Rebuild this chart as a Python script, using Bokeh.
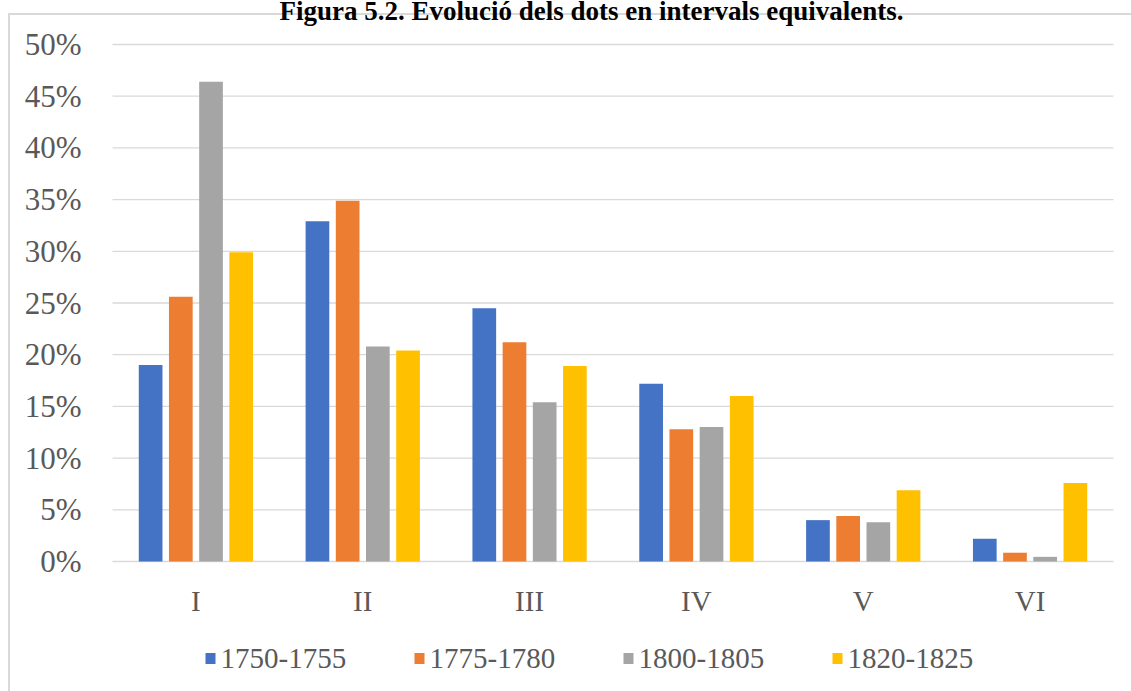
from bokeh.plotting import figure
from bokeh.models import Range1d, ColumnDataSource
from bokeh.core.properties import value
from bokeh.transform import dodge
from bokeh.embed import file_html
from bokeh.resources import INLINE

# ---- data ----
categories = ["I", "II", "III", "IV", "V", "VI"]
series_names = ["1750-1755", "1775-1780", "1800-1805", "1820-1825"]
s1750 = [0.190, 0.329, 0.245, 0.172, 0.040, 0.022]
s1775 = [0.256, 0.349, 0.212, 0.128, 0.044, 0.0085]
s1800 = [0.464, 0.208, 0.154, 0.130, 0.038, 0.0045]
s1820 = [0.299, 0.204, 0.189, 0.160, 0.069, 0.076]
y_ticks = [0.0, 0.05, 0.10, 0.15, 0.20, 0.25, 0.30, 0.35, 0.40, 0.45, 0.50]
y_tick_labels = ["0%", "5%", "10%", "15%", "20%", "25%", "30%", "35%", "40%", "45%", "50%"]
title_text = "Figura 5.2. Evolució dels dots en intervals equivalents."

colors = ["#4472C4", "#ED7D31", "#A5A5A5", "#FFC000"]

GRID = "#D9D9D9"
TXT = "#595959"
FONT = value("Liberation Serif")

# ---- layout (pixels) ----
W, H = 1131, 691
PLOT_L, PLOT_R = 112, 1113     # plot area, horizontal
Y0_PX, Y50_PX = 561, 44        # pixel rows of 0% and 50%
PXX = (PLOT_R - PLOT_L) / len(categories)   # pixels per category
PXY = (Y0_PX - Y50_PX) / 0.5                # pixels per unit


def dx(px):
    return (px - PLOT_L) / PXX


def dy(py):
    return (Y0_PX - py) / PXY


n = len(categories)
xc = [i + 0.5 for i in range(n)]
src = ColumnDataSource(dict(cat=categories, xc=xc, base=[0.0] * n,
                            s0=s1750, s1=s1775, s2=s1800, s3=s1820))

p = figure(width=W, height=H, x_range=Range1d(dx(0), dx(W)), y_range=Range1d(dy(H), dy(0)),
           output_backend="svg", toolbar_location=None,
           min_border_left=0, min_border_right=0, min_border_top=0, min_border_bottom=0)
# light chart-area border (left and top edges), drawn behind the transparent canvas
p.styles = {
    "background-color": "white",
    "background-image": "linear-gradient(#D9D9D9, #D9D9D9), linear-gradient(#D9D9D9, #D9D9D9)",
    "background-size": "2px 720px, 1300px 2px",
    "background-position": "8px 13px, 8px 13px",
    "background-repeat": "no-repeat",
}
p.border_fill_color = None
p.background_fill_color = None
p.outline_line_color = None
p.axis.visible = False
p.grid.visible = False

# horizontal gridlines across the category span
p.segment(x0=[0] * len(y_ticks), x1=[n] * len(y_ticks), y0=y_ticks, y1=y_ticks,
          line_color=GRID, line_width=1.3)

# y tick labels
p.text(x=[0] * len(y_ticks), y=y_ticks, text=y_tick_labels, x_offset=-31,
       text_align="right", text_baseline="middle", text_font=FONT,
       text_font_size="31px", text_color=TXT)

# category labels under the 0% line
p.text(x="xc", y="base", text="cat", source=src, y_offset=39, text_align="center",
       text_baseline="middle", text_font=FONT, text_font_size="29px", text_color=TXT)

# bars
step = 0.181
width = 0.142
offsets = [-1.5 * step, -0.5 * step, 0.5 * step, 1.5 * step]
for i, name in enumerate(series_names):
    p.vbar(x=dodge("xc", offsets[i]), top="s%d" % i, width=width,
           source=src, fill_color=colors[i], line_color=None)

# legend (squares + labels) below the chart
LEG_LEFT, LEG_PITCH, LEG_Y = 205, 209, 658
sq_x = [dx(LEG_LEFT + 5 + k * LEG_PITCH) for k in range(len(series_names))]
leg_y = [dy(LEG_Y)] * len(series_names)
p.rect(x=sq_x, y=leg_y, width=10, height=11, width_units="screen", height_units="screen",
       fill_color=colors, line_color=None)
p.text(x=sq_x, y=leg_y, text=series_names, x_offset=10, text_align="left",
       text_baseline="middle", text_font=FONT, text_font_size="29px", text_color=TXT)

# title (partly cut off at the top, as in the source)
p.text(x=[dx(591)], y=[dy(10)], text=[title_text], text_align="center",
       text_baseline="alphabetic", text_font=FONT, text_font_style="bold",
       text_font_size="27px", text_color="black")

open("out.html", "w").write(file_html(p, INLINE))
